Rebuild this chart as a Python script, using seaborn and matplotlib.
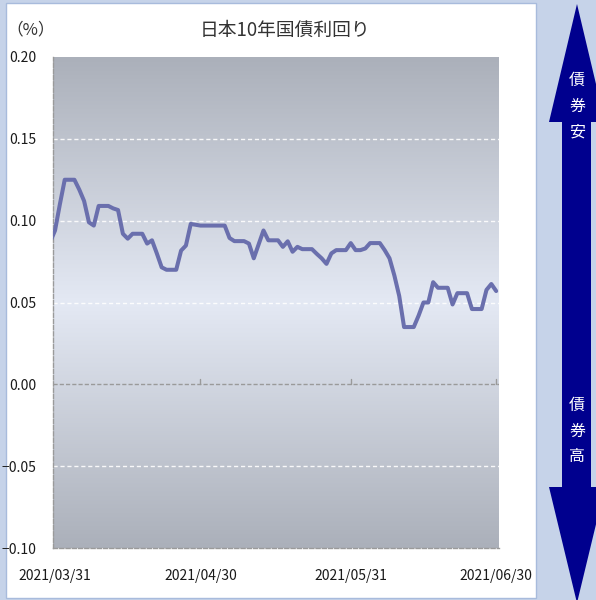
import numpy as np
import pandas as pd
import matplotlib
matplotlib.use("Agg")
import matplotlib.pyplot as plt
import seaborn as sns
from matplotlib.patches import Rectangle, Polygon

# ---------------- data ----------------
start_date = "2021-03-30"
end_date = "2021-06-30"
yields = [
    0.087,                                     # 3/30
    0.094, 0.110, 0.125, 0.125, 0.125,         # 3/31 - 4/4
    0.119, 0.112, 0.099, 0.097, 0.109, 0.109, 0.109,      # 4/5 - 4/11
    0.1075, 0.1065, 0.092, 0.089, 0.092, 0.092, 0.092,    # 4/12 - 4/18
    0.086, 0.088, 0.080, 0.0715, 0.070, 0.070, 0.070,     # 4/19 - 4/25
    0.0817, 0.0848, 0.098, 0.0975, 0.097, 0.097, 0.097,   # 4/26 - 5/2
    0.097, 0.097, 0.097, 0.0894, 0.0875, 0.0875, 0.0875,  # 5/3 - 5/9
    0.086, 0.077, 0.0855, 0.094, 0.088, 0.088, 0.088,     # 5/10 - 5/16
    0.084, 0.0874, 0.081, 0.084, 0.0826, 0.0826, 0.0826,  # 5/17 - 5/23
    0.0797, 0.077, 0.0736, 0.080, 0.082, 0.082, 0.082,    # 5/24 - 5/30
    0.0863, 0.082, 0.082, 0.083, 0.0863, 0.0863, 0.0863, # 5/31 - 6/6
    0.082, 0.077, 0.0665, 0.054, 0.035, 0.035, 0.035,     # 6/7 - 6/13
    0.042, 0.050, 0.050, 0.0624, 0.059, 0.059, 0.059,     # 6/14 - 6/20
    0.0488, 0.0557, 0.0557, 0.0557, 0.046, 0.046, 0.046,  # 6/21 - 6/27
    0.0577, 0.0613, 0.057,                                # 6/28 - 6/30
]
tick_dates = ["2021-03-31", "2021-04-30", "2021-05-31", "2021-06-30"]
tick_labels = ["2021/03/31", "2021/04/30", "2021/05/31", "2021/06/30"]
y_ticks = [0.20, 0.15, 0.10, 0.05, 0.00, -0.05, -0.10]
y_tick_labels = ["0.20", "0.15", "0.10", "0.05", "0.00", "\u22120.05", "\u22120.10"]
white_grid = [0.15, 0.10, 0.05, -0.05]
title = "日本10年国債利回り"
unit = "（%）"
upper_label = "債券安"
lower_label = "債券高"

dates = pd.date_range(start_date, end_date, freq="D")
df = pd.DataFrame({"date": dates, "yield": yields})
tick_dt = pd.to_datetime(tick_dates)

# ---------------- style ----------------
sns.set_style("white")
plt.rcParams["font.family"] = ["Noto Sans CJK JP", "DejaVu Sans"]

W, H = 596, 600
fig = plt.figure(figsize=(W / 100, H / 100), dpi=100)

# background / frame decoration (pixel coordinates)
bg = fig.add_axes([0, 0, 1, 1], zorder=0)
bg.set_xlim(0, W)
bg.set_ylim(H, 0)
bg.axis("off")
bg.add_patch(Rectangle((0, 0), W, H, facecolor="#c6d3e9", edgecolor="none"))
bg.add_patch(Rectangle((5.5, 2.5), 530, 595, facecolor="white",
                       edgecolor="#a8bbdc", lw=1))
arrow = Polygon([(577, 4), (605, 122), (591, 122), (591, 487), (605, 487),
                 (577, 603), (549, 487), (562, 487), (562, 122), (549, 122)],
                closed=True, facecolor="#00008e", edgecolor="none")
bg.add_patch(arrow)
for i, ch in enumerate(upper_label):
    bg.text(577, 80 + i * 26, ch, color="white", fontsize=11.5,
            ha="center", va="center")
for i, ch in enumerate(lower_label):
    bg.text(577, 405 + i * 26, ch, color="white", fontsize=11.5,
            ha="center", va="center")

# main axes
ax = fig.add_axes([53 / W, 52 / H, 446 / W, 491 / H], zorder=1)

top_c = np.array([0xab, 0xb0, 0xba]) / 255
mid_c = np.array([0xe4, 0xe9, 0xf4]) / 255
t = np.abs(np.linspace(-1, 1, 256))[:, None, None]
grad = mid_c[None, None, :] * (1 - t) + top_c[None, None, :] * t
ax.imshow(grad, extent=[0, 1, 0, 1], transform=ax.transAxes,
          aspect="auto", zorder=0, interpolation="bilinear")

for y in white_grid:
    ax.axhline(y, color="white", lw=1, ls=(0, (3, 2)), alpha=0.9, zorder=1)
ax.axhline(0, color="#9a9a9a", lw=1, ls=(0, (3, 1.5)), zorder=1)
for d in tick_dt[1:]:
    ax.plot([d, d], [0, 0.003], color="#9a9a9a", lw=1, zorder=1)

sns.lineplot(data=df, x="date", y="yield", ax=ax, color="#6a6fad",
             lw=2.9, zorder=3)

ax.set_xlim(pd.Timestamp("2021-03-31") - pd.Timedelta(hours=10),
            pd.Timestamp("2021-06-30") + pd.Timedelta(hours=14))
ax.set_ylim(-0.10, 0.20)

for s in ["top", "right"]:
    ax.spines[s].set_visible(False)
for s in ["left", "bottom"]:
    ax.spines[s].set_color("#9a9a9a")
    ax.spines[s].set_linewidth(1)
    ax.spines[s].set_linestyle((0, (3, 1.5)))

ax.set_yticks(y_ticks)
ax.set_yticklabels(y_tick_labels)
ax.set_xticks(tick_dt)
ax.set_xticklabels(tick_labels)
ax.tick_params(axis="y", length=0, pad=12, labelsize=10, labelcolor="#1a1a1a")
ax.tick_params(axis="x", length=0, pad=15, labelsize=10, labelcolor="#1a1a1a")
ax.set_xlabel("")
ax.set_ylabel("")

fig.text(285 / W, 1 - 30 / H, title, ha="center", va="center",
         fontsize=13.5, color="#333333")
fig.text(6 / W, 1 - 30 / H, unit, ha="left", va="center",
         fontsize=12, color="#333333")

fig.savefig("out.png", dpi=100)
